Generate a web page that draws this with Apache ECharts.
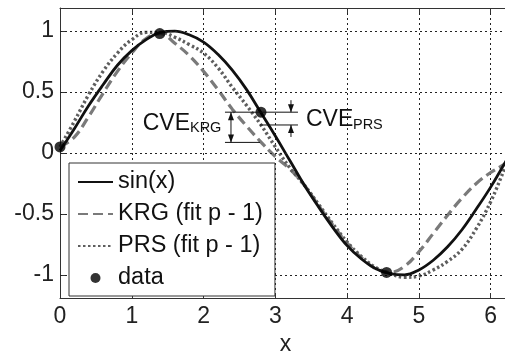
<!DOCTYPE html>
<html>
<head>
<meta charset="utf-8">
<script src="https://cdn.jsdelivr.net/npm/echarts@6/dist/echarts.min.js"></script>
<style>
  html, body { margin: 0; padding: 0; background: #fff; }
  #chart { width: 505px; height: 354px; }
</style>
</head>
<body>
<div id="chart"></div>
<script>
// sample points along x
const xs = [0, 0.2, 0.4, 0.6, 0.8, 1.0, 1.2, 1.4, 1.6, 1.8, 2.0, 2.2, 2.4, 2.6, 2.8, 3.0,
  3.2, 3.4, 3.6, 3.8, 4.0, 4.2, 4.4, 4.6, 4.8, 5.0, 5.2, 5.4, 5.6, 5.8, 6.0, 6.2, 6.28];
const sinY = [0.02, 0.2, 0.39, 0.56, 0.72, 0.84, 0.93, 0.99, 1.0, 0.97, 0.91, 0.81, 0.68, 0.52, 0.33, 0.14,
  -0.06, -0.26, -0.44, -0.61, -0.76, -0.87, -0.95, -0.99, -1.0, -0.96, -0.88, -0.77, -0.63, -0.46, -0.28, -0.08, 0.0];
const krgY = [0.05, 0.13, 0.30, 0.49, 0.67, 0.82, 0.94, 0.98, 0.90, 0.80, 0.67, 0.52, 0.36, 0.22, 0.09, -0.03,
  -0.13, -0.26, -0.43, -0.59, -0.74, -0.86, -0.95, -0.98, -0.93, -0.81, -0.66, -0.51, -0.37, -0.25, -0.16, -0.09, -0.06];
const prsY = [0.05, 0.26, 0.48, 0.67, 0.82, 0.93, 0.99, 0.99, 0.95, 0.89, 0.82, 0.70, 0.54, 0.39, 0.23, 0.05,
  -0.12, -0.26, -0.42, -0.58, -0.73, -0.85, -0.94, -0.99, -1.02, -1.01, -0.96, -0.89, -0.79, -0.62, -0.40, -0.12, -0.01];

// data points
const dataX = [0, 1.39, 2.8, 4.55];
const dataY = [0.05, 0.98, 0.335, -0.98];

// left-out point and the two fits there
const cveX = 2.8;
const cveSin = 0.335;
const cveKrg = 0.087;
const cvePrs = 0.23;

const yTicks = [-1, -0.5, 0, 0.5, 1];

const font = "'Liberation Sans', Arial, sans-serif";
const pairs = (ys) => xs.map((x, i) => [x, ys[i]]);

const chart = echarts.init(document.getElementById('chart'));

const gridLine = { color: '#222', type: [2, 3], width: 1 };
const axisLine = { onZero: false, lineStyle: { color: '#333', width: 1 } };
const noSymbol = { opacity: 0 };

const option = {
  animation: false,
  backgroundColor: '#fff',
  // plot runs past the right edge of the picture
  grid: { left: 60, top: 8, width: 451, bottom: 56, outerBoundsMode: 'none' },
  xAxis: [
    {
      type: 'value',
      min: 0,
      max: 6.2832,
      interval: 1,
      axisLine: axisLine,
      axisTick: { inside: true, length: 5, lineStyle: { color: '#333' } },
      axisLabel: { color: '#222', fontSize: 23, fontFamily: font, margin: 7, showMaxLabel: false },
      splitLine: { show: true, lineStyle: gridLine },
      name: 'x',
      nameLocation: 'middle',
      nameGap: 35,
      nameTextStyle: { color: '#222', fontSize: 23, fontFamily: font },
    },
    {
      type: 'value',
      position: 'top',
      min: 0,
      max: 6.2832,
      interval: 1,
      axisLine: axisLine,
      axisTick: { inside: true, length: 5, lineStyle: { color: '#333' } },
      axisLabel: { show: false },
      splitLine: { show: false },
    },
  ],
  yAxis: {
    type: 'value',
    min: -1.19,
    max: 1.19,
    axisLine: { show: true, onZero: false, lineStyle: { color: '#333', width: 1 } },
    axisTick: { show: true, inside: true, length: 5, customValues: yTicks, lineStyle: { color: '#333' } },
    axisLabel: { color: '#222', fontSize: 23, fontFamily: font, margin: 6, customValues: yTicks },
    splitLine: { show: false },
  },
  legend: {
    orient: 'vertical',
    left: 69,
    top: 163,
    data: [
      { name: 'sin(x)', itemStyle: noSymbol },
      { name: 'KRG (fit p - 1)', itemStyle: noSymbol },
      { name: 'PRS (fit p - 1)', itemStyle: noSymbol },
      { name: 'data' },
    ],
    itemWidth: 35,
    itemHeight: 10,
    itemGap: 8,
    padding: [7, 12, 6, 8],
    borderColor: '#333',
    borderWidth: 1,
    backgroundColor: '#fff',
    selectedMode: false,
    textStyle: { color: '#111', fontSize: 23.5, fontFamily: font },
    z: 10,
  },
  series: [
    {
      // horizontal grid lines
      name: 'grid',
      type: 'line',
      data: [],
      silent: true,
      z: 1,
      markLine: {
        silent: true,
        symbol: 'none',
        label: { show: false },
        lineStyle: gridLine,
        data: yTicks.map((v) => ({ yAxis: v })),
      },
    },
    {
      name: 'sin(x)',
      type: 'line',
      data: pairs(sinY),
      smooth: 0.4,
      symbol: 'none',
      lineStyle: { color: '#111', width: 2.8 },
      itemStyle: { color: '#111' },
      z: 4,
    },
    {
      name: 'KRG (fit p - 1)',
      type: 'line',
      data: pairs(krgY),
      smooth: 0.4,
      symbol: 'none',
      lineStyle: { color: '#7a7a7a', width: 3.2, type: [10, 5] },
      itemStyle: { color: '#7a7a7a' },
      z: 3,
    },
    {
      name: 'PRS (fit p - 1)',
      type: 'line',
      data: pairs(prsY),
      smooth: 0.4,
      symbol: 'none',
      lineStyle: { color: '#5e5e5e', width: 3.4, type: [2.5, 2.5] },
      itemStyle: { color: '#5e5e5e' },
      z: 3,
    },
    {
      name: 'data',
      type: 'scatter',
      data: dataX.map((x, i) => [x, dataY[i]]),
      symbolSize: 11,
      itemStyle: { color: '#000' },
      z: 5,
    },
  ],
};

chart.setOption(option);

// CVE annotations, placed from data coords
const p = chart.convertToPixel({ seriesIndex: 1 }, [cveX, cveSin]);
const pk = chart.convertToPixel({ seriesIndex: 1 }, [cveX, cveKrg]);
const pp = chart.convertToPixel({ seriesIndex: 1 }, [cveX, cvePrs]);

const ink = '#111';
const hline = (x1, x2, y) => ({
  type: 'line', z: 20, shape: { x1, y1: y, x2, y2: y }, style: { stroke: ink, lineWidth: 1 },
});
const vline = (x, y1, y2) => ({
  type: 'line', z: 20, shape: { x1: x, y1, x2: x, y2 }, style: { stroke: ink, lineWidth: 1 },
});
// tip at (x, y), dir = 1 points down, -1 points up
const head = (x, y, dir) => ({
  type: 'polygon', z: 20,
  shape: { points: [[x, y], [x - 3, y - dir * 8], [x + 3, y - dir * 8]] },
  style: { fill: ink },
});
const label = (text, x, y, size, align) => ({
  type: 'text', z: 20,
  style: { text, x, y, fontSize: size, fontFamily: font, fill: ink, align, verticalAlign: 'middle' },
});

const ak = p[0] - 30;
const ap = p[0] + 30;

chart.setOption({
  graphic: [
    hline(p[0] - 36, p[0] + 37, p[1]),
    hline(p[0] - 36, p[0] - 1, pk[1]),
    hline(p[0] - 1, p[0] + 37, pp[1]),
    vline(ak, p[1], pk[1]),
    head(ak, p[1], -1),
    head(ak, pk[1], 1),
    vline(ap, p[1] - 12, p[1]),
    head(ap, p[1], 1),
    vline(ap, pp[1], pp[1] + 12),
    head(ap, pp[1], -1),
    label('CVE', p[0] - 71, p[1] + 11, 23, 'right'),
    label('KRG', p[0] - 71, p[1] + 16, 14.5, 'left'),
    label('CVE', p[0] + 45, p[1] + 7, 23, 'left'),
    label('PRS', p[0] + 92, p[1] + 12.5, 14.5, 'left'),
  ],
});
</script>
</body>
</html>
